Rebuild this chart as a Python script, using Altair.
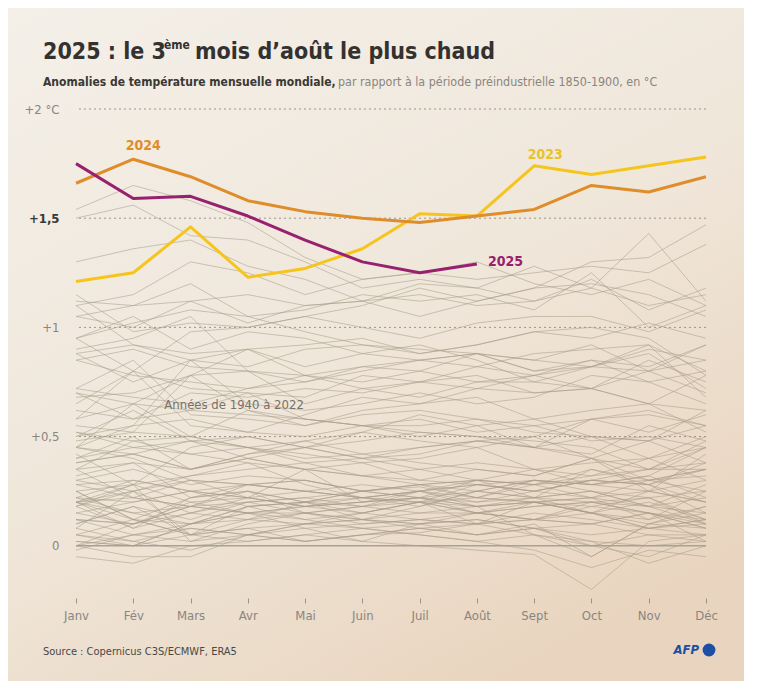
import json
import altair as alt
import pandas as pd

months = ["Janv", "Fév", "Mars", "Avr", "Mai", "Juin", "Juil", "Août", "Sept", "Oct", "Nov", "Déc"]

grey_1940s = [
    [0.22, 0.15, 0.10, 0.18, 0.20, 0.25, 0.27, 0.22, 0.30, 0.25, 0.18, 0.28],
    [0.30, 0.35, 0.28, 0.32, 0.30, 0.25, 0.28, 0.30, 0.22, 0.35, 0.28, 0.20],
    [0.15, 0.20, 0.25, 0.18, 0.12, 0.15, 0.20, 0.18, 0.22, 0.15, 0.10, 0.08],
    [0.10, 0.18, 0.12, 0.20, 0.22, 0.18, 0.25, 0.30, 0.28, 0.35, 0.30, 0.32],
    [0.38, 0.42, 0.35, 0.40, 0.45, 0.40, 0.42, 0.48, 0.45, 0.40, 0.30, 0.35],
    [0.30, 0.25, 0.32, 0.38, 0.28, 0.22, 0.25, 0.18, 0.05, -0.05, 0.10, 0.15],
    [0.28, 0.22, 0.18, 0.25, 0.15, 0.10, 0.12, 0.15, 0.18, 0.20, 0.22, 0.12],
    [0.18, 0.08, 0.15, 0.20, 0.22, 0.25, 0.22, 0.20, 0.25, 0.30, 0.28, 0.15],
    [0.25, 0.12, 0.05, 0.18, 0.20, 0.15, 0.12, 0.10, 0.15, 0.12, 0.08, 0.10],
    [0.15, 0.10, 0.20, 0.15, 0.12, 0.08, 0.10, 0.15, 0.12, 0.10, 0.05, 0.02],
]
grey_1950s = [
    [-0.02, 0.05, 0.08, 0.05, 0.10, 0.08, 0.05, 0.02, 0.05, 0.00, -0.05, 0.05],
    [0.02, 0.00, 0.10, 0.15, 0.18, 0.20, 0.22, 0.25, 0.30, 0.28, 0.25, 0.30],
    [0.25, 0.28, 0.20, 0.22, 0.18, 0.20, 0.22, 0.18, 0.20, 0.15, 0.08, 0.12],
    [0.20, 0.25, 0.30, 0.28, 0.25, 0.22, 0.25, 0.20, 0.22, 0.25, 0.18, 0.22],
    [0.10, 0.18, 0.05, 0.08, 0.02, 0.05, 0.08, 0.05, 0.08, 0.10, 0.15, 0.02],
    [0.08, 0.02, -0.02, 0.05, 0.02, 0.05, 0.06, 0.10, 0.05, 0.02, -0.08, 0.00],
    [-0.05, -0.08, 0.00, 0.02, 0.05, 0.02, 0.00, -0.02, -0.04, -0.20, 0.02, 0.05],
    [0.05, 0.12, 0.10, 0.18, 0.20, 0.22, 0.25, 0.28, 0.30, 0.28, 0.30, 0.35],
    [0.45, 0.40, 0.30, 0.28, 0.30, 0.25, 0.28, 0.22, 0.20, 0.22, 0.25, 0.20],
    [0.22, 0.20, 0.25, 0.22, 0.18, 0.20, 0.22, 0.18, 0.20, 0.15, 0.12, 0.18],
]
grey_1960s = [
    [0.18, 0.28, 0.02, 0.10, 0.15, 0.18, 0.15, 0.18, 0.20, 0.22, 0.12, 0.25],
    [0.22, 0.30, 0.25, 0.28, 0.25, 0.22, 0.20, 0.22, 0.20, 0.18, 0.22, 0.10],
    [0.20, 0.22, 0.18, 0.20, 0.15, 0.18, 0.20, 0.15, 0.18, 0.20, 0.18, 0.15],
    [0.08, 0.25, 0.05, 0.12, 0.15, 0.12, 0.18, 0.25, 0.30, 0.28, 0.32, 0.22],
    [0.20, 0.12, 0.05, 0.02, 0.05, 0.08, 0.05, 0.02, -0.02, -0.10, -0.02, -0.05],
    [0.05, 0.02, 0.08, 0.05, 0.10, 0.12, 0.08, 0.10, 0.12, 0.15, 0.08, 0.12],
    [0.12, 0.10, 0.15, 0.12, 0.10, 0.15, 0.20, 0.15, 0.12, 0.10, 0.15, 0.08],
    [0.05, 0.00, 0.10, 0.12, 0.20, 0.12, 0.15, 0.15, 0.12, 0.20, 0.15, 0.12],
    [0.00, 0.10, 0.18, 0.15, 0.08, 0.10, 0.12, 0.10, 0.12, 0.18, 0.15, 0.10],
    [0.12, 0.10, 0.18, 0.28, 0.30, 0.25, 0.28, 0.30, 0.28, 0.32, 0.35, 0.38],
]
grey_1970s = [
    [0.35, 0.38, 0.22, 0.25, 0.20, 0.18, 0.22, 0.15, 0.20, 0.15, 0.20, 0.12],
    [0.12, 0.05, 0.02, 0.05, 0.08, 0.02, 0.10, 0.12, 0.08, 0.05, 0.08, 0.05],
    [0.00, 0.05, 0.10, 0.15, 0.18, 0.22, 0.20, 0.28, 0.25, 0.30, 0.28, 0.38],
    [0.40, 0.45, 0.42, 0.38, 0.35, 0.32, 0.28, 0.25, 0.22, 0.20, 0.15, 0.08],
    [0.02, 0.00, 0.05, 0.08, 0.10, 0.12, 0.10, 0.12, 0.08, 0.00, 0.05, 0.05],
    [0.20, 0.15, 0.18, 0.15, 0.15, 0.12, 0.10, 0.05, 0.08, 0.02, 0.00, 0.02],
    [0.00, -0.05, -0.05, 0.05, 0.02, 0.05, 0.08, 0.05, 0.10, -0.05, 0.10, 0.18],
    [0.20, 0.28, 0.32, 0.35, 0.38, 0.32, 0.35, 0.30, 0.28, 0.22, 0.30, 0.25],
    [0.28, 0.30, 0.25, 0.22, 0.18, 0.15, 0.20, 0.10, 0.20, 0.15, 0.25, 0.20],
    [0.20, 0.08, 0.22, 0.25, 0.20, 0.25, 0.22, 0.30, 0.35, 0.38, 0.40, 0.50],
]
grey_1980s = [
    [0.38, 0.42, 0.35, 0.42, 0.45, 0.40, 0.35, 0.38, 0.35, 0.32, 0.40, 0.30],
    [0.52, 0.45, 0.48, 0.40, 0.35, 0.38, 0.40, 0.45, 0.35, 0.28, 0.32, 0.45],
    [0.18, 0.25, 0.15, 0.22, 0.25, 0.28, 0.25, 0.22, 0.28, 0.30, 0.35, 0.48],
    [0.55, 0.52, 0.50, 0.45, 0.48, 0.42, 0.45, 0.48, 0.50, 0.40, 0.48, 0.38],
    [0.35, 0.22, 0.30, 0.22, 0.35, 0.20, 0.25, 0.28, 0.25, 0.22, 0.18, 0.10],
    [0.25, 0.12, 0.22, 0.28, 0.25, 0.22, 0.18, 0.25, 0.22, 0.25, 0.22, 0.25],
    [0.32, 0.38, 0.35, 0.40, 0.35, 0.32, 0.30, 0.35, 0.32, 0.40, 0.35, 0.35],
    [0.40, 0.50, 0.35, 0.42, 0.48, 0.52, 0.60, 0.55, 0.58, 0.50, 0.48, 0.62],
    [0.70, 0.58, 0.62, 0.60, 0.58, 0.55, 0.52, 0.50, 0.48, 0.45, 0.35, 0.45],
    [0.35, 0.48, 0.42, 0.45, 0.38, 0.40, 0.45, 0.48, 0.45, 0.50, 0.40, 0.45],
]
grey_1990s = [
    [0.48, 0.52, 0.78, 0.62, 0.58, 0.55, 0.50, 0.55, 0.45, 0.58, 0.62, 0.55],
    [0.58, 0.65, 0.50, 0.62, 0.55, 0.60, 0.62, 0.58, 0.52, 0.50, 0.48, 0.55],
    [0.52, 0.48, 0.50, 0.45, 0.42, 0.38, 0.30, 0.28, 0.25, 0.30, 0.28, 0.35],
    [0.45, 0.42, 0.48, 0.45, 0.40, 0.42, 0.38, 0.35, 0.32, 0.40, 0.25, 0.42],
    [0.42, 0.28, 0.45, 0.50, 0.45, 0.52, 0.48, 0.45, 0.50, 0.58, 0.60, 0.55],
    [0.72, 0.85, 0.60, 0.58, 0.55, 0.62, 0.65, 0.68, 0.58, 0.62, 0.65, 0.52],
    [0.50, 0.62, 0.48, 0.50, 0.45, 0.48, 0.52, 0.50, 0.45, 0.42, 0.55, 0.48],
    [0.50, 0.55, 0.58, 0.52, 0.60, 0.68, 0.65, 0.72, 0.78, 0.82, 0.80, 0.85],
    [0.95, 1.05, 0.90, 0.98, 0.95, 0.88, 0.92, 0.85, 0.75, 0.72, 0.65, 0.78],
    [0.58, 0.80, 0.55, 0.52, 0.50, 0.55, 0.58, 0.52, 0.55, 0.58, 0.52, 0.60],
]
grey_2000s = [
    [0.45, 0.65, 0.62, 0.70, 0.58, 0.55, 0.55, 0.58, 0.55, 0.48, 0.50, 0.45],
    [0.62, 0.58, 0.70, 0.68, 0.72, 0.70, 0.75, 0.78, 0.70, 0.72, 0.85, 0.75],
    [0.90, 0.95, 1.05, 0.80, 0.78, 0.82, 0.80, 0.75, 0.78, 0.72, 0.80, 0.70],
    [0.85, 0.78, 0.75, 0.72, 0.78, 0.75, 0.80, 0.88, 0.85, 0.92, 0.80, 0.92],
    [0.85, 0.90, 0.82, 0.80, 0.65, 0.72, 0.68, 0.75, 0.75, 0.82, 0.88, 0.72],
    [0.88, 0.75, 0.85, 0.90, 0.82, 0.88, 0.85, 0.82, 0.88, 0.90, 0.92, 0.80],
    [0.65, 0.80, 0.72, 0.70, 0.68, 0.78, 0.75, 0.82, 0.78, 0.85, 0.82, 0.92],
    [1.10, 0.92, 0.88, 0.90, 0.78, 0.72, 0.75, 0.72, 0.70, 0.72, 0.65, 0.62],
    [0.45, 0.55, 0.85, 0.65, 0.62, 0.65, 0.70, 0.65, 0.68, 0.78, 0.75, 0.65],
    [0.72, 0.68, 0.65, 0.72, 0.75, 0.80, 0.85, 0.88, 0.85, 0.82, 0.90, 0.85],
]
grey_2010s = [
    [0.95, 1.02, 1.08, 1.05, 0.98, 0.92, 0.90, 0.88, 0.80, 0.82, 0.92, 0.68],
    [0.70, 0.65, 0.78, 0.80, 0.75, 0.82, 0.85, 0.88, 0.80, 0.85, 0.75, 0.80],
    [0.68, 0.70, 0.78, 0.90, 0.92, 0.95, 0.88, 0.92, 0.98, 1.00, 0.95, 0.78],
    [0.88, 0.92, 0.85, 0.82, 0.90, 0.92, 0.88, 0.92, 0.98, 0.95, 1.02, 0.95],
    [0.95, 0.80, 0.98, 1.00, 1.05, 1.00, 0.95, 1.02, 1.05, 1.05, 0.98, 1.08],
    [1.05, 1.10, 1.12, 1.02, 1.10, 1.12, 1.05, 1.12, 1.18, 1.30, 1.32, 1.47],
    [1.54, 1.65, 1.58, 1.48, 1.32, 1.22, 1.25, 1.30, 1.20, 1.15, 1.22, 1.10],
    [1.30, 1.36, 1.40, 1.28, 1.22, 1.12, 1.20, 1.18, 1.12, 1.18, 1.10, 1.15],
    [1.05, 1.00, 1.12, 1.15, 1.10, 1.12, 1.15, 1.10, 1.12, 1.22, 1.08, 1.18],
    [1.10, 1.15, 1.30, 1.25, 1.15, 1.22, 1.25, 1.22, 1.25, 1.28, 1.25, 1.38],
]
grey_2020s = [
    [1.50, 1.56, 1.42, 1.40, 1.30, 1.18, 1.22, 1.18, 1.28, 1.18, 1.43, 1.12],
    [1.15, 0.98, 1.02, 1.00, 1.05, 1.10, 1.18, 1.12, 1.18, 1.20, 1.15, 1.05],
    [1.12, 1.10, 1.20, 1.05, 1.08, 1.15, 1.12, 1.15, 1.08, 1.25, 1.00, 1.10],
]

y2023 = [1.21, 1.25, 1.46, 1.23, 1.27, 1.36, 1.52, 1.51, 1.74, 1.70, 1.74, 1.78]
y2024 = [1.66, 1.77, 1.69, 1.58, 1.53, 1.50, 1.48, 1.51, 1.54, 1.65, 1.62, 1.69]
y2025 = [1.75, 1.59, 1.60, 1.51, 1.40, 1.30, 1.25, 1.29]

grid_values = [0.5, 1, 1.5, 2]
y_ticks = [0, 0.5, 1, 1.5, 2]

FONT = "DejaVu Sans Condensed, Roboto, sans-serif"
GREY_TXT = "#8a8580"
DARK_TXT = "#3a3835"

# ---------------- data frames ----------------
all_grey = grey_1940s + grey_1950s + grey_1960s + grey_1970s + grey_1980s + grey_1990s + grey_2000s + grey_2010s + grey_2020s
rows = []
for i, row in enumerate(all_grey):
    for m, v in enumerate(row):
        rows.append({"year": 1940 + i, "m": m, "v": v})
df_grey = pd.DataFrame(rows)

hl_rows = []
for yr, vals in (("2023", y2023), ("2024", y2024), ("2025", y2025)):
    for m, v in enumerate(vals):
        hl_rows.append({"year": yr, "m": m, "v": v})
df_hl = pd.DataFrame(hl_rows)

one = pd.DataFrame({"k": [0]})

# ---------------- scales / axes ----------------
xs = alt.Scale(domain=[0, 11], nice=False, zero=False)
ys = alt.Scale(domain=[-0.23, 2.0], nice=False, zero=False)

x_axis = alt.Axis(
    values=list(range(12)),
    labelExpr=json.dumps(months, ensure_ascii=False) + "[datum.value]",
    title=None, grid=False, domain=False, ticks=True, tickSize=5, tickColor="#9a948b",
    tickWidth=1, offset=2, labelPadding=6, labelColor=GREY_TXT, labelFontSize=13,
    labelFont=FONT, labelFlush=False, zindex=1,
)
y_axis = alt.Axis(
    values=y_ticks,
    labelExpr="datum.value == 2 ? '+2 °C' : datum.value == 1.5 ? '+1,5' : datum.value == 1 ? '+1' : datum.value == 0.5 ? '+0,5' : '0'",
    title=None, grid=False, domain=False, ticks=False, labelPadding=17,
    labelColor={"condition": {"test": "datum.value == 1.5", "value": DARK_TXT}, "value": GREY_TXT},
    labelFontWeight={"condition": {"test": "datum.value == 1.5", "value": "bold"}, "value": "normal"},
    labelFontSize=13, labelFont=FONT, labelFlush=False, zindex=1,
)
X = alt.X("m:Q", scale=xs, axis=x_axis)
Y = alt.Y("v:Q", scale=ys, axis=y_axis)

# ---------------- layers ----------------
gradient = alt.LinearGradient(
    gradient="linear",
    stops=[
        alt.GradientStop(offset=0, color="#f4f0e9"),
        alt.GradientStop(offset=0.55, color="#f0e7db"),
        alt.GradientStop(offset=1, color="#e9d5bf"),
    ],
    x1=0, y1=0, x2=0.6, y2=1,
)
bg = alt.Chart(one).mark_rect(fill=gradient).encode(
    x=alt.value(-90), x2=alt.value(700), y=alt.value(-120), y2=alt.value(600)
)

grid = alt.Chart(pd.DataFrame({"v": grid_values})).mark_rule(
    color="#9a948b", strokeDash=[2, 3], strokeWidth=1
).encode(y=Y)

zero = alt.Chart(pd.DataFrame({"v": [0]})).mark_rule(
    color="#a8a196", strokeWidth=1.6
).encode(y=Y)

grey = alt.Chart(df_grey).mark_line(
    color="#a89d89", strokeWidth=1, opacity=0.55
).encode(x=X, y=Y, detail="year:N")

hl = alt.Chart(df_hl).mark_line(strokeWidth=3, strokeJoin="round").encode(
    x=X, y=Y,
    color=alt.Color("year:N", scale=alt.Scale(domain=["2023", "2024", "2025"],
                                              range=["#f6c51b", "#df8d2b", "#97206f"]),
                    legend=None),
)

def year_label(text, m, v, color, dx, dy, align):
    return alt.Chart(pd.DataFrame({"m": [m], "v": [v], "t": [text]})).mark_text(
        font=FONT, fontSize=14, fontWeight="bold", color=color, dx=dx, dy=dy,
        align=align, baseline="middle"
    ).encode(x=X, y=Y, text="t:N")

lab2024 = year_label("2024", 1, y2024[1], "#df8d2b", 10, -13, "center")
lab2023 = year_label("2023", 8, y2023[8], "#e9c22a", 11, -11, "center")
lab2025 = year_label("2025", 7, y2025[7], "#97206f", 11, -2, "left")

lab_years = alt.Chart(pd.DataFrame({"m": [2.76], "v": [0.645], "t": ["Années de 1940 à 2022"]})).mark_text(
    font=FONT, fontSize=13, color="#77716a", align="center", baseline="middle"
).encode(x=X, y=Y, text="t:N")

def free_text(text, x, y, size, color, weight="normal", align="left", baseline="alphabetic", style="normal"):
    return alt.Chart(pd.DataFrame({"t": [text]})).mark_text(
        font=FONT, fontSize=size, color=color, fontWeight=weight, align=align,
        baseline=baseline, fontStyle=style
    ).encode(x=alt.value(x), y=alt.value(y), text="t:N")

title1 = free_text("2025 : le 3", -33, -50, 23, "#333230", "bold")
title_sup = free_text("ème", 88, -60, 12, "#333230", "bold")
title2 = free_text("mois d’août le plus chaud", 119, -50, 23, "#333230", "bold")
sub1 = free_text("Anomalies de température mensuelle mondiale,", -33, -23, 12, DARK_TXT, "bold")
sub2 = free_text("par rapport à la période préindustrielle 1850-1900, en °C", 262, -23, 12.4, GREY_TXT)
source = free_text("Source : Copernicus C3S/ECMWF, ERA5", -33, 543, 11, "#4a4845", "normal", baseline="middle")
afp = free_text("AFP", 623, 541, 13, "#1d4fa5", "bold", align="right", baseline="middle", style="italic")
afp_dot = alt.Chart(one).mark_point(filled=True, shape="circle", size=165, color="#1d4fa5", opacity=1).encode(
    x=alt.value(633), y=alt.value(541)
)

chart = alt.layer(
    bg, grid, zero, grey, hl, lab2024, lab2023, lab2025, lab_years,
    title1, title_sup, title2, sub1, sub2, source, afp, afp_dot,
).properties(
    width=630, height=487,
    padding={"left": 68, "top": 101, "right": 38, "bottom": 85},
    autosize=alt.AutoSizeParams(type="none"),
    background="#efe6da",
).configure_view(stroke=None)

chart.save("out.html", embed_options={"renderer": "svg", "actions": False})
